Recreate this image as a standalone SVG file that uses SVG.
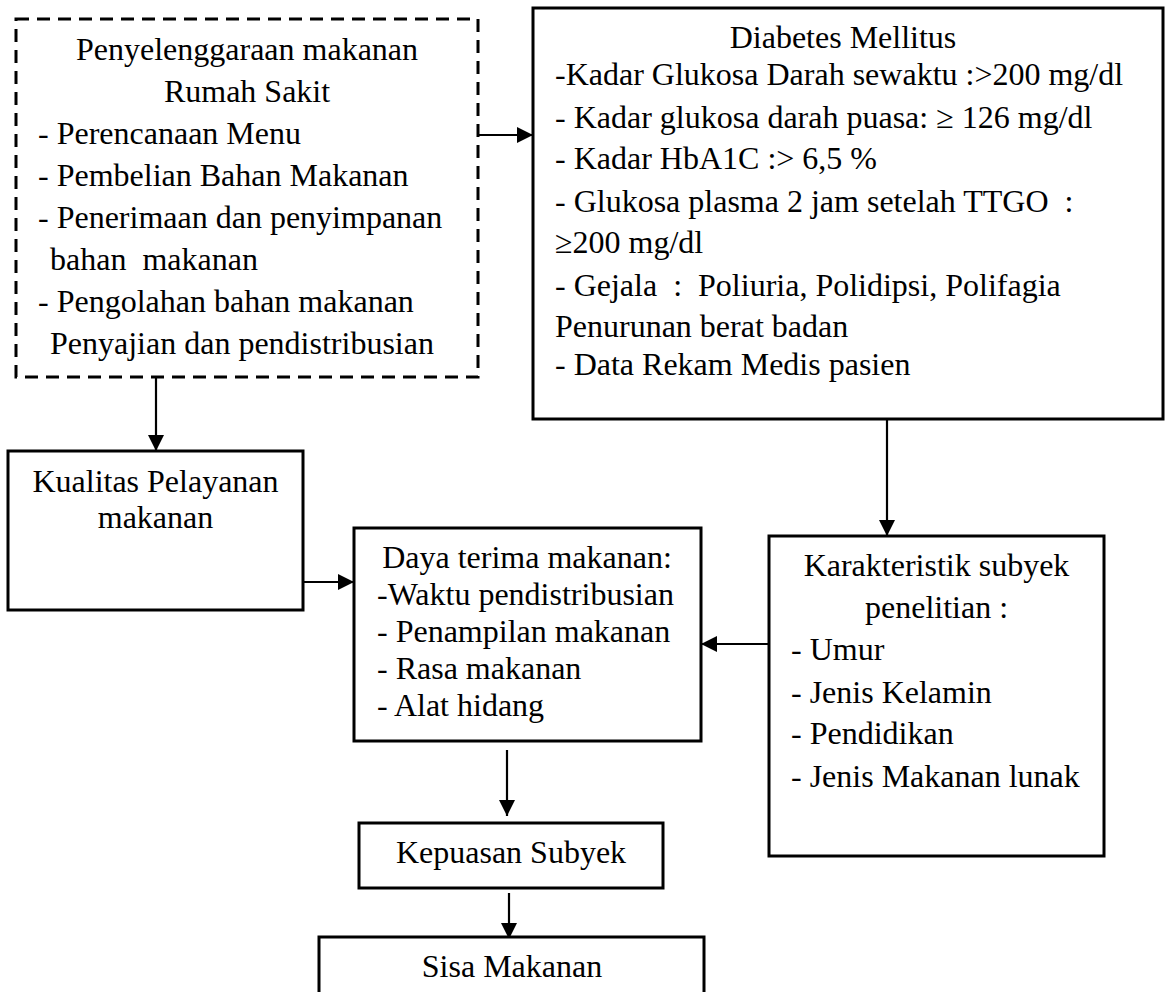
<svg xmlns="http://www.w3.org/2000/svg" width="1165" height="992" viewBox="0 0 1165 992">
<style>
  .box{fill:#fff;stroke:#000;stroke-width:3}
  .dash{fill:#fff;stroke:#000;stroke-width:3;stroke-dasharray:13 8}
  .c{text-anchor:middle}
  .ln{fill:none;stroke:#000;stroke-width:2.2;marker-end:url(#ah)}
</style>
<defs>
  <marker id="ah" markerUnits="userSpaceOnUse" markerWidth="17" markerHeight="16" refX="16" refY="8" orient="auto">
    <path d="M0,0 L16,8 L0,16 z" fill="#000"/>
  </marker>
</defs>
<rect width="1165" height="992" fill="#fff"/>

<g id="connectors">
  <path class="ln" d="M478,135 H533"/>
  <path class="ln" d="M156,377 V451"/>
  <path class="ln" d="M303,582 H354"/>
  <path class="ln" d="M887,419 V536"/>
  <path class="ln" d="M769,644 H701"/>
  <path class="ln" d="M507,750 V816"/>
  <path class="ln" d="M509,893 V939"/>
</g>

<g font-family="Times New Roman, Liberation Serif, DejaVu Serif, serif" font-size="32" fill="#000">
<g id="penyelenggaraan">
  <rect class="dash" x="16" y="19" width="462" height="358"/>
  <text class="c" x="247" y="60">Penyelenggaraan makanan</text>
  <text class="c" x="247" y="102">Rumah Sakit</text>
  <text x="38" y="144">- Perencanaan Menu</text>
  <text x="38" y="186">- Pembelian Bahan Makanan</text>
  <text x="38" y="228">- Penerimaan dan penyimpanan</text>
  <text x="50" y="270" xml:space="preserve">bahan  makanan</text>
  <text x="38" y="312">- Pengolahan bahan makanan</text>
  <text x="50" y="354">Penyajian dan pendistribusian</text>
</g>

<g id="diabetes">
  <rect class="box" x="533" y="8" width="630" height="411"/>
  <text class="c" x="843" y="48">Diabetes Mellitus</text>
  <text x="555" y="85">-Kadar Glukosa Darah sewaktu :&gt;200 mg/dl</text>
  <text x="555" y="128">- Kadar glukosa darah puasa: ≥ 126 mg/dl</text>
  <text x="555" y="169">- Kadar HbA1C :&gt; 6,5 %</text>
  <text x="555" y="212" xml:space="preserve">- Glukosa plasma 2 jam setelah TTGO  :</text>
  <text x="555" y="253">≥200 mg/dl</text>
  <text x="555" y="296" xml:space="preserve">- Gejala  :  Poliuria, Polidipsi, Polifagia</text>
  <text x="555" y="337">Penurunan berat badan</text>
  <text x="555" y="375">- Data Rekam Medis pasien</text>
</g>

<g id="kualitas">
  <rect class="box" x="8" y="451" width="295" height="159"/>
  <text class="c" x="155.5" y="492">Kualitas Pelayanan</text>
  <text class="c" x="155.5" y="528">makanan</text>
</g>

<g id="daya-terima">
  <rect class="box" x="354" y="528" width="347" height="213"/>
  <text class="c" x="527" y="568">Daya terima makanan:</text>
  <text x="377" y="605">-Waktu pendistribusian</text>
  <text x="377" y="642">- Penampilan makanan</text>
  <text x="377" y="679">- Rasa makanan</text>
  <text x="377" y="716">- Alat hidang</text>
</g>

<g id="karakteristik">
  <rect class="box" x="769" y="536" width="335" height="320"/>
  <text class="c" x="936.5" y="576">Karakteristik subyek</text>
  <text class="c" x="936.5" y="618">penelitian :</text>
  <text x="791" y="660">- Umur</text>
  <text x="791" y="703">- Jenis Kelamin</text>
  <text x="791" y="744">- Pendidikan</text>
  <text x="791" y="787">- Jenis Makanan lunak</text>
</g>

<g id="kepuasan">
  <rect class="box" x="359" y="823" width="304" height="65"/>
  <text class="c" x="511" y="863">Kepuasan Subyek</text>
</g>

<g id="sisa">
  <rect class="box" x="319" y="937" width="385" height="60"/>
  <text class="c" x="512" y="977">Sisa Makanan</text>
</g>
</g>
</svg>
